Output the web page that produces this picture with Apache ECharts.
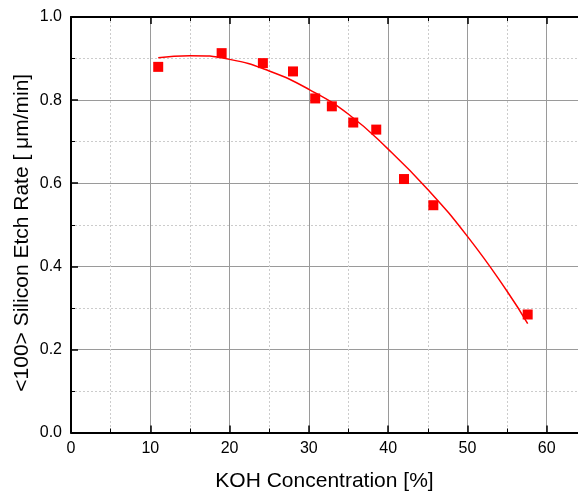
<!DOCTYPE html>
<html>
<head>
<meta charset="utf-8">
<script src="https://cdn.jsdelivr.net/npm/echarts@6/dist/echarts.min.js"></script>
<style>
  html, body { margin: 0; padding: 0; background: #fff; }
  #chart { width: 578px; height: 495px; }
</style>
</head>
<body>
<div id="chart"></div>
<script>
// measured points
var koh = [11.0, 19.0, 24.2, 28.0, 30.8, 32.9, 35.6, 38.5, 42.0, 45.7, 57.6];
var etchRate = [0.880, 0.913, 0.889, 0.869, 0.804, 0.785, 0.746, 0.729, 0.610, 0.547, 0.284];

// fitted curve
var fitKoh = [11, 15, 20, 25, 30, 35, 40, 45, 50, 55, 57.6];
var fitRate = [0.902, 0.907, 0.898, 0.870, 0.826, 0.766, 0.682, 0.585, 0.472, 0.340, 0.262];

var font = "Liberation Sans, Arial, sans-serif";

var pairs = function (xs, ys) {
  return xs.map(function (x, i) { return [x, ys[i]]; });
};

var myChart = echarts.init(document.getElementById("chart"));

// x axis runs to 70, the part past ~64 falls outside the canvas (cropped like the original)
var option = {
  animation: false,
  grid: {
    left: 71,
    right: -48,
    top: 17,
    bottom: 62.5,
    outerBoundsMode: "none",
    containLabel: false,
  },
  xAxis: [
    {
      type: "value",
      min: 0,
      max: 70,
      interval: 10,
      name: "KOH Concentration [%]",
      nameLocation: "middle",
      nameGap: 38,
      nameTextStyle: { fontFamily: font, fontSize: 21, color: "#000", padding: [0, 48, 0, 0] },
      axisLine: { show: true, lineStyle: { color: "#000", width: 2 } },
      axisTick: { show: true, inside: true, length: 7, lineStyle: { color: "#000", width: 1.5 } },
      minorTick: { show: true, splitNumber: 2, length: 4, lineStyle: { color: "#000", width: 1 } },
      axisLabel: { fontFamily: font, fontSize: 16, color: "#000", margin: 8, showMaxLabel: false },
      splitLine: { show: true, lineStyle: { color: "#9a9a9a", width: 1 } },
      minorSplitLine: { show: true, lineStyle: { color: "#cccccc", width: 1, type: [2, 2] } },
    },
    {
      type: "value",
      position: "top",
      min: 0,
      max: 70,
      interval: 10,
      axisLine: { show: true, lineStyle: { color: "#000", width: 2 } },
      axisTick: { show: true, inside: true, length: 7, lineStyle: { color: "#000", width: 1.5 } },
      minorTick: { show: true, splitNumber: 2, length: 4, lineStyle: { color: "#000", width: 1 } },
      axisLabel: { show: false },
      splitLine: { show: false },
    },
  ],
  yAxis: {
    type: "value",
    min: 0,
    max: 1,
    interval: 0.2,
    name: "<100> Silicon Etch Rate [ μm/min]",
    nameLocation: "middle",
    nameGap: 38,
    nameMoveOverlap: false,
    nameTextStyle: { fontFamily: font, fontSize: 21, color: "#000", padding: [0, 16, 0, 0] },
    axisLine: { show: true, lineStyle: { color: "#000", width: 2 } },
    axisTick: { show: true, inside: true, length: 7, lineStyle: { color: "#000", width: 1.5 } },
    minorTick: { show: true, splitNumber: 2, length: 4, lineStyle: { color: "#000", width: 1 } },
    axisLabel: {
      fontFamily: font,
      fontSize: 16,
      color: "#000",
      margin: 9,
      formatter: function (v) { return v.toFixed(1); },
    },
    splitLine: { show: true, lineStyle: { color: "#9a9a9a", width: 1 } },
    minorSplitLine: { show: true, lineStyle: { color: "#cccccc", width: 1, type: [2, 2] } },
  },
  series: [
    {
      name: "fit",
      type: "line",
      smooth: true,
      showSymbol: false,
      lineStyle: { color: "#ff0000", width: 1.5 },
      data: pairs(fitKoh, fitRate),
    },
    {
      name: "data",
      type: "scatter",
      symbol: "rect",
      symbolSize: 10,
      itemStyle: { color: "#ff0000", opacity: 1 },
      data: pairs(koh, etchRate),
    },
  ],
};

myChart.setOption(option);
</script>
</body>
</html>
